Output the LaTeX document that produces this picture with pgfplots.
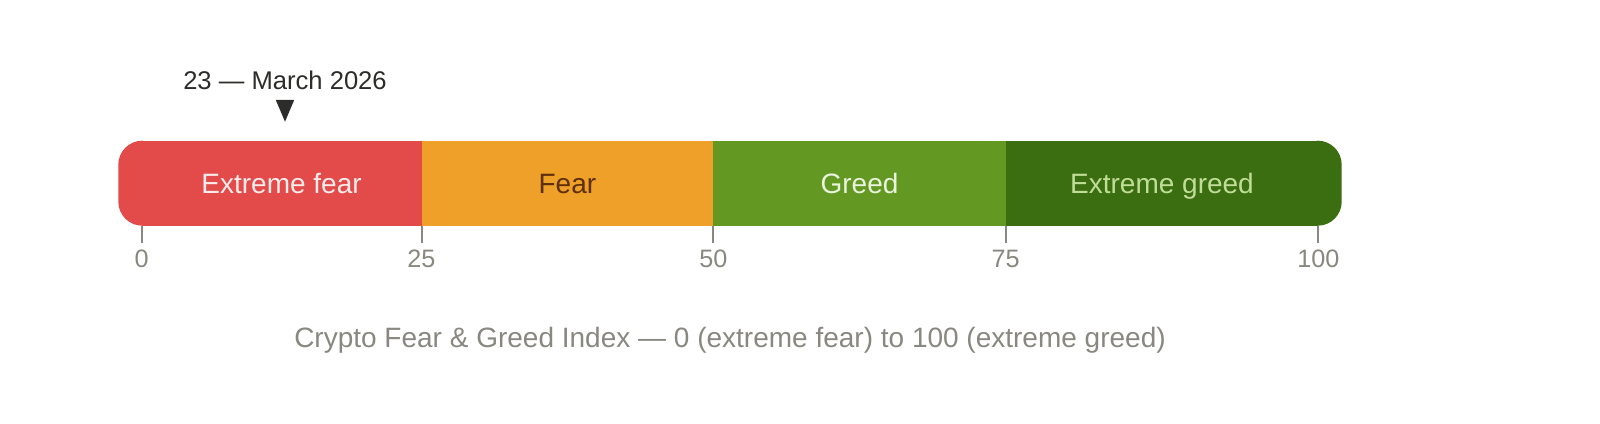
\documentclass[border=0pt]{standalone}
\usepackage{pgfplots}
\pgfplotsset{compat=1.18}
\usepackage{fontspec}
\setmainfont{Liberation Sans}
\definecolor{xfear}{HTML}{E24B4A}
\definecolor{fear}{HTML}{EFA028}
\definecolor{greed}{HTML}{639922}
\definecolor{xgreed}{HTML}{3B6D11}
\definecolor{tickgray}{HTML}{888780}
\definecolor{dark}{HTML}{2C2C2A}
\definecolor{txfear}{HTML}{FCEBEB}
\definecolor{tfear}{HTML}{5E300A}
\definecolor{tgreed}{HTML}{EAF3DE}
\definecolor{txgreed}{HTML}{C0DD97}
\begin{document}
\begin{tikzpicture}
\begin{axis}[
  x=0.5bp, y=0.5bp,
  xmin=0, xmax=1600, ymin=198.3, ymax=424,
  axis x line=bottom, axis y line=none,
  axis line style={draw=none},
  xtick={141.7,421.5,713.3,1005.7,1318.3},
  xticklabels={0,25,50,75,100},
  tick align=outside, major tick length=8.8bp,
  x tick style={color=tickgray, line width=1bp},
  xticklabel style={font=\fontsize{12.6bp}{15bp}\selectfont, text=tickgray},
  /pgf/number format/assume math mode=true,
  clip=false,
]
\path (axis cs:0,0) rectangle (axis cs:1600,424);
% rounded ends
\fill[xfear] (axis cs:143,198.3) [rounded corners=12bp] -- (axis cs:118.3,198.3) -- (axis cs:118.3,283.3) [sharp corners] -- (axis cs:143,283.3) -- cycle;
\fill[xgreed] (axis cs:1317,198.3) [rounded corners=12bp] -- (axis cs:1341.7,198.3) -- (axis cs:1341.7,283.3) [sharp corners] -- (axis cs:1317,283.3) -- cycle;
% segments
\addplot[fill=xfear, draw=none] coordinates {(141.7,198.3)(421.5,198.3)(421.5,283.3)(141.7,283.3)};
\addplot[fill=fear, draw=none] coordinates {(421.5,198.3)(713.3,198.3)(713.3,283.3)(421.5,283.3)};
\addplot[fill=greed, draw=none] coordinates {(713.3,198.3)(1005.7,198.3)(1005.7,283.3)(713.3,283.3)};
\addplot[fill=xgreed, draw=none] coordinates {(1005.7,198.3)(1318.3,198.3)(1318.3,283.3)(1005.7,283.3)};
% marker
\addplot[fill=dark, draw=none] coordinates {(275.8,324)(294.2,324)(285,302.3)};
\node[anchor=base, text=dark, font=\fontsize{12.8bp}{15bp}\selectfont] at (axis cs:285,334) {23 — March 2026};
\node[anchor=base, text=txfear, font=\fontsize{14bp}{16bp}\selectfont] at (axis cs:281.6,230.7) {Extreme fear};
\node[anchor=base, text=tfear, font=\fontsize{14bp}{16bp}\selectfont] at (axis cs:567.4,230.7) {Fear};
\node[anchor=base, text=tgreed, font=\fontsize{14bp}{16bp}\selectfont] at (axis cs:859.5,230.7) {Greed};
\node[anchor=base, text=txgreed, font=\fontsize{14bp}{16bp}\selectfont] at (axis cs:1162,230.7) {Extreme greed};
\node[anchor=base, text=tickgray, font=\fontsize{14bp}{16bp}\selectfont] at (axis cs:730,76.5) {Crypto Fear \& Greed Index — 0 (extreme fear) to 100 (extreme greed)};
\end{axis}
\end{tikzpicture}
\end{document}
